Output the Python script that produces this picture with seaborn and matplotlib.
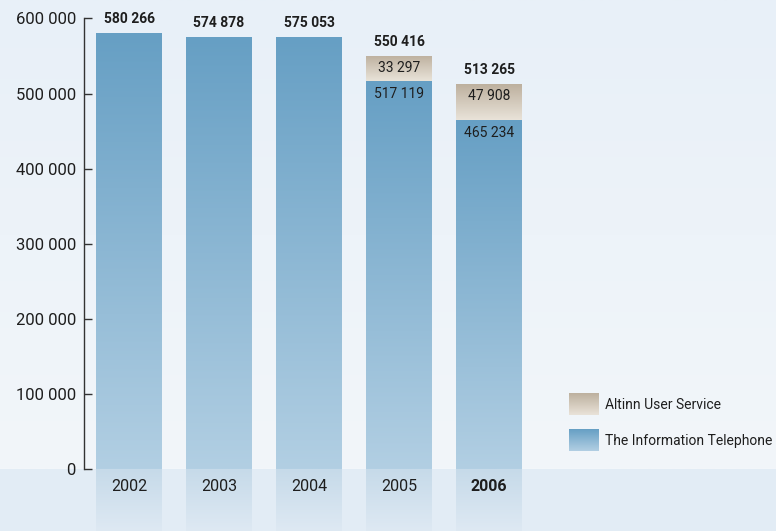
import numpy as np
import pandas as pd
import matplotlib
matplotlib.use("Agg")
import matplotlib.pyplot as plt
import seaborn as sns
from matplotlib.patches import Patch
from matplotlib.colors import LinearSegmentedColormap

# ---- data ----
years = ["2002", "2003", "2004", "2005", "2006"]
info_telephone = [580266, 574878, 575053, 517119, 465234]
altinn_user_service = [0, 0, 0, 33297, 47908]
total_labels = [580266, 574878, 575053, 550416, 513265]
y_ticks = [0, 100000, 200000, 300000, 400000, 500000, 600000]
series_names = ["Altinn User Service", "The Information Telephone"]

stack_tops = [a + b for a, b in zip(info_telephone, altinn_user_service)]

def fmt(v):
    return f"{v:,}".replace(",", " ")

def rgb(r, g, b):
    return (r / 255, g / 255, b / 255)

BLUE_TOP, BLUE_BOT = rgb(102, 159, 196), rgb(178, 207, 227)
BEIGE_TOP, BEIGE_BOT = rgb(189, 176, 158), rgb(233, 227, 217)
BG_TOP, BG_BOT = rgb(232, 240, 248), rgb(242, 246, 250)
BAND = rgb(226, 236, 245)
REFL_TOP, REFL_BOT = rgb(198, 218, 233), rgb(222, 233, 243)
TXT = "#1e1e1e"

sns.set_theme(style="white")
plt.rcParams['font.family'] = ['Roboto', 'DejaVu Sans']

fig = plt.figure(figsize=(7.76, 5.31), dpi=100)
ax = fig.add_axes([0, 0, 1, 1])

df = pd.DataFrame({"year": years, "info": info_telephone, "total": stack_tops})
W = 0.733
sns.barplot(data=df, x="year", y="total", color=BEIGE_TOP, width=W, ax=ax,
            saturation=1, errorbar=None)
sns.barplot(data=df, x="year", y="info", color=BLUE_TOP, width=W, ax=ax,
            saturation=1, errorbar=None)

# axis geometry (pixel mapping)
px_per_unit = 75.1 / 100000
XL = (-129 / 90, (776 - 129) / 90)
YL = (-(531 - 469) / px_per_unit, 469 / px_per_unit)


def grad(x0, x1, y0, y1, ctop, cbot, clip=None, z=2):
    cmap = LinearSegmentedColormap.from_list("g", [cbot, ctop])
    arr = np.linspace(0, 1, 256).reshape(-1, 1)
    im = ax.imshow(arr, cmap=cmap, extent=(x0, x1, y0, y1), origin="lower",
                   aspect="auto", zorder=z, interpolation="bilinear")
    if clip is not None:
        im.set_clip_path(clip)
    return im

n = len(years)
total_patches = ax.patches[:n]
info_patches = ax.patches[n:2 * n]

# background
grad(XL[0], XL[1], 0, YL[1], BG_TOP, BG_BOT, z=0)
ax.axhspan(YL[0], 0, color=BAND, zorder=0.5, lw=0)

for i in range(n):
    tp, ip = total_patches[i], info_patches[i]
    x0, w = ip.get_x(), ip.get_width()
    tp.set_facecolor("none"); tp.set_edgecolor("none")
    ip.set_facecolor("none"); ip.set_edgecolor("none")
    # blue segment
    grad(x0, x0 + w, 0, info_telephone[i], BLUE_TOP, BLUE_BOT, clip=ip, z=2)
    # beige segment
    if altinn_user_service[i] > 0:
        grad(x0, x0 + w, info_telephone[i], stack_tops[i], BEIGE_TOP, BEIGE_BOT, clip=tp, z=2)
    # reflection in the bottom band
    grad(x0, x0 + w, YL[0], 0, REFL_TOP, REFL_BOT, z=1)

    # total label
    ax.annotate(fmt(total_labels[i]), (i, stack_tops[i]), xytext=(0, 10), textcoords="offset points",
                ha="center", va="center", fontsize=10, fontweight="bold", color=TXT, zorder=5)
    if altinn_user_service[i] > 0:
        ax.annotate(fmt(altinn_user_service[i]), (i, stack_tops[i]), xytext=(0, -9),
                    textcoords="offset points", ha="center", va="center",
                    fontsize=10, color=TXT, zorder=5)
        ax.annotate(fmt(info_telephone[i]), (i, info_telephone[i]), xytext=(0, -9.5),
                    textcoords="offset points", ha="center", va="center",
                    fontsize=10, color=TXT, zorder=5)
    # year label
    ax.text(i, -17.7 / px_per_unit, years[i], ha="center", va="center", fontsize=11.5,
            color=TXT, fontweight="bold" if i == n - 1 else "normal", zorder=5)

ax.set_xlim(*XL)
ax.set_ylim(*YL)
ax.set_xticks([])
ax.set_xlabel("")
ax.set_ylabel("")
ax.set_yticks(y_ticks)
ax.set_yticklabels([fmt(v) for v in y_ticks])
for s in ["top", "right", "bottom"]:
    ax.spines[s].set_visible(False)
ax.spines["left"].set_position(("data", -0.5))
ax.spines["left"].set_bounds(0, y_ticks[-1])
ax.spines["left"].set_color("#333333")
ax.spines["left"].set_linewidth(1)
ax.spines["left"].set_zorder(4)
ax.tick_params(axis="y", direction="in", length=6, width=1, color="#333333",
               pad=5.8, labelsize=12, labelcolor=TXT, left=True)

handles = [Patch(facecolor=BEIGE_TOP, edgecolor="none"),
           Patch(facecolor=BLUE_TOP, edgecolor="none")]
leg = ax.legend(handles, series_names, loc="upper left",
                bbox_to_anchor=(569 / 776, 1 - 394 / 531), frameon=False,
                borderpad=0, borderaxespad=0, handlelength=2.09, handleheight=2.0,
                handletextpad=0.5, labelspacing=1.05, fontsize=10, labelcolor=TXT)

fig.canvas.draw()
renderer = fig.canvas.get_renderer()
inv = ax.transData.inverted()
for p, (ct, cb) in zip(leg.get_patches(), [(BEIGE_TOP, BEIGE_BOT), (BLUE_TOP, BLUE_BOT)]):
    bb = p.get_window_extent(renderer)
    (a0, b0), (a1, b1) = inv.transform([(bb.x0, bb.y0), (bb.x1, bb.y1)])
    grad(a0, a1, b0, b1, ct, cb, z=6)
    p.set_facecolor("none")
ax.set_xlim(*XL)
ax.set_ylim(*YL)

fig.savefig("out.png", dpi=100)
